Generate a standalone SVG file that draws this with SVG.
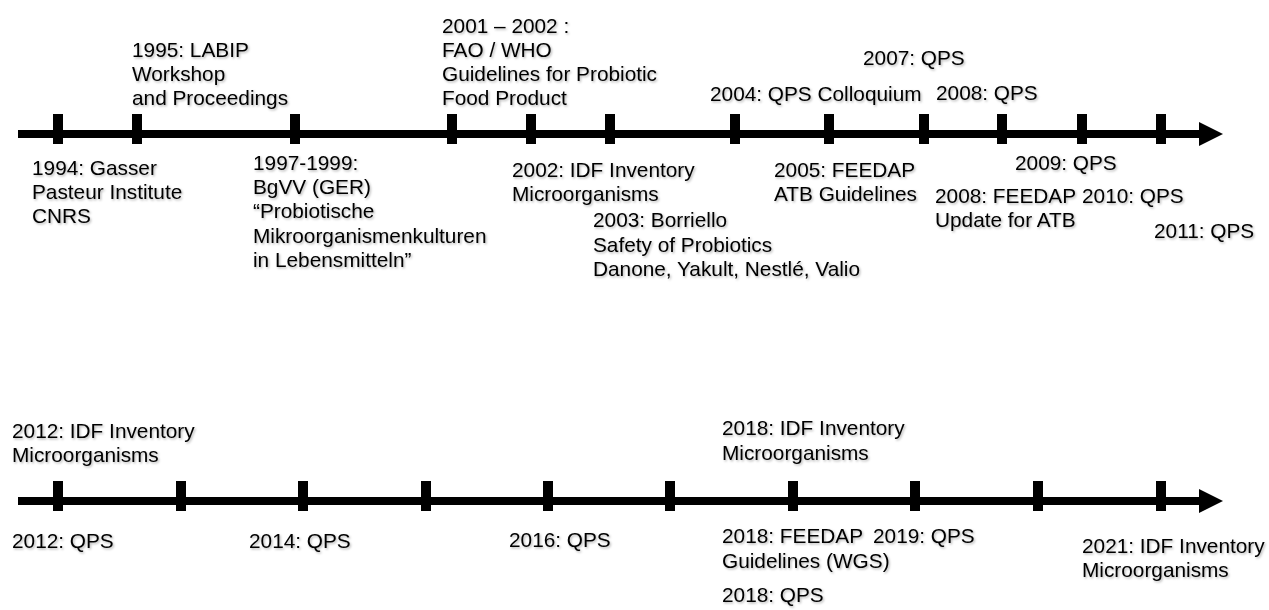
<svg xmlns="http://www.w3.org/2000/svg" width="1269" height="610" viewBox="0 0 1269 610">
<style>
text{font-family:"Liberation Sans",Arial,Helvetica,sans-serif;font-size:20.8px;fill:#000;filter:url(#sh)}
.axis{stroke:#000;stroke-width:8;fill:none}
.tick{fill:#000}
</style>
<defs>
<filter id="sh" x="-5%" y="-20%" width="110%" height="140%">
<feDropShadow dx="1.2" dy="1.4" stdDeviation="0.9" flood-color="#000" flood-opacity="0.3"/>
</filter>
<marker id="arr" markerUnits="userSpaceOnUse" markerWidth="25" markerHeight="26" refX="0" refY="12" orient="auto">
<path d="M0,0 L24,12 L0,24 z" fill="#000"/>
</marker>
<rect id="tk" x="-5" y="-20" width="10" height="30"/>
</defs>
<rect width="1269" height="610" fill="#fff"/>
<g id="connectors">
<line class="axis" x1="18" y1="134" x2="1199" y2="134" marker-end="url(#arr)"/>
<line class="axis" x1="18" y1="501" x2="1199" y2="501" marker-end="url(#arr)"/>
</g>
<g id="ticks-top" class="tick">
<use href="#tk" x="58" y="134"/><use href="#tk" x="137" y="134"/><use href="#tk" x="295" y="134"/>
<use href="#tk" x="452" y="134"/><use href="#tk" x="531" y="134"/><use href="#tk" x="610" y="134"/>
<use href="#tk" x="735" y="134"/><use href="#tk" x="829" y="134"/><use href="#tk" x="924" y="134"/>
<use href="#tk" x="1002" y="134"/><use href="#tk" x="1082" y="134"/><use href="#tk" x="1161" y="134"/>
</g>
<g id="ticks-bottom" class="tick">
<use href="#tk" x="58" y="501"/><use href="#tk" x="181" y="501"/><use href="#tk" x="303" y="501"/>
<use href="#tk" x="426" y="501"/><use href="#tk" x="548" y="501"/><use href="#tk" x="670" y="501"/>
<use href="#tk" x="793" y="501"/><use href="#tk" x="915" y="501"/><use href="#tk" x="1038" y="501"/>
<use href="#tk" x="1161" y="501"/>
</g>
<g id="e1994"><text x="32" y="175"><tspan x="32">1994: Gasser</tspan><tspan x="32" dy="24">Pasteur Institute</tspan><tspan x="32" dy="24">CNRS</tspan></text></g>
<g id="e1995"><text x="132" y="57"><tspan x="132">1995: LABIP</tspan><tspan x="132" dy="24">Workshop</tspan><tspan x="132" dy="24">and Proceedings</tspan></text></g>
<g id="e1997"><text x="253" y="170"><tspan x="253">1997-1999:</tspan><tspan x="253" dy="24.2">BgVV (GER)</tspan><tspan x="253" dy="24.2">“Probiotische</tspan><tspan x="253" dy="24.2">Mikroorganismenkulturen</tspan><tspan x="253" dy="24.2">in Lebensmitteln”</tspan></text></g>
<g id="e2001"><text x="442" y="33"><tspan x="442">2001 – 2002 :</tspan><tspan x="442" dy="24">FAO / WHO</tspan><tspan x="442" dy="24">Guidelines for Probiotic</tspan><tspan x="442" dy="24">Food Product</tspan></text></g>
<g id="e2002"><text x="512" y="177"><tspan x="512">2002: IDF Inventory</tspan><tspan x="512" dy="24">Microorganisms</tspan></text></g>
<g id="e2003"><text x="593" y="227"><tspan x="593">2003: Borriello</tspan><tspan x="593" dy="24.5">Safety of Probiotics</tspan><tspan x="593" dy="24.5">Danone, Yakult, Nestlé, Valio</tspan></text></g>
<g id="e2004"><text x="710" y="101">2004: QPS Colloquium</text></g>
<g id="e2005"><text x="774" y="177"><tspan x="774">2005: FEEDAP</tspan><tspan x="774" dy="24">ATB Guidelines</tspan></text></g>
<g id="e2007"><text x="863" y="65">2007: QPS</text></g>
<g id="e2008q"><text x="936" y="100">2008: QPS</text></g>
<g id="e2009"><text x="1015" y="170">2009: QPS</text></g>
<g id="e2008f"><text x="935" y="203"><tspan x="935">2008: FEEDAP</tspan><tspan x="935" dy="24">Update for ATB</tspan></text></g>
<g id="e2010"><text x="1082" y="203">2010: QPS</text></g>
<g id="e2011"><text x="1154" y="238">2011: QPS</text></g>
<g id="e2012i"><text x="12" y="438"><tspan x="12">2012: IDF Inventory</tspan><tspan x="12" dy="24">Microorganisms</tspan></text></g>
<g id="e2012q"><text x="12" y="548">2012: QPS</text></g>
<g id="e2014"><text x="249" y="548">2014: QPS</text></g>
<g id="e2016"><text x="509" y="547">2016: QPS</text></g>
<g id="e2018i"><text x="722" y="435"><tspan x="722">2018: IDF Inventory</tspan><tspan x="722" dy="25">Microorganisms</tspan></text></g>
<g id="e2018f"><text x="722" y="543"><tspan x="722">2018: FEEDAP</tspan><tspan x="722" dy="24.5">Guidelines (WGS)</tspan></text></g>
<g id="e2019"><text x="873" y="543">2019: QPS</text></g>
<g id="e2018q"><text x="722" y="602">2018: QPS</text></g>
<g id="e2021"><text x="1082" y="553"><tspan x="1082">2021: IDF Inventory</tspan><tspan x="1082" dy="24">Microorganisms</tspan></text></g>
</svg>
